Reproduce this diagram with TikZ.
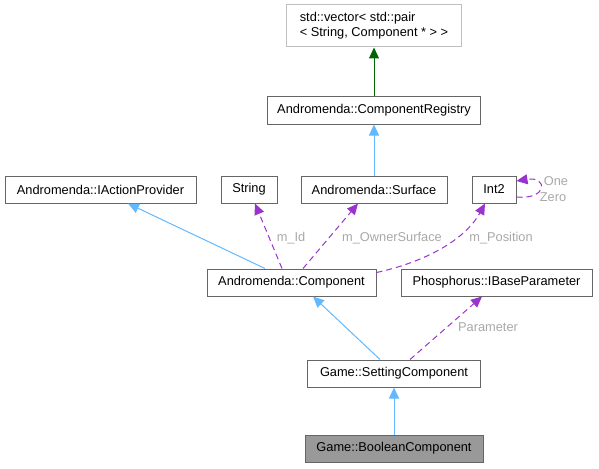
\documentclass[tikz,border=0pt]{standalone}
\usepackage{fontspec}
\setmainfont{Liberation Sans}
\usetikzlibrary{arrows.meta,calc}
\definecolor{boxline}{HTML}{666666}
\definecolor{lightline}{HTML}{BFBFBF}
\definecolor{inhblue}{HTML}{63B8FF}
\definecolor{usepurple}{HTML}{9A32CD}
\definecolor{tmplgreen}{HTML}{006400}
\definecolor{lblgray}{HTML}{A8A8A8}
\definecolor{curfill}{HTML}{999999}
\tikzset{
  cls/.style={draw=boxline, line width=1pt, fill=white, minimum height=27pt, inner sep=0pt,
    font=\fontsize{12.8}{15}\selectfont, text=black},
  inh/.style={draw=inhblue, line width=1pt, -{Triangle[length=11pt,width=10pt]}},
  usage/.style={draw=usepurple, line width=1pt, dash pattern=on 6pt off 4pt, -{Triangle[length=11pt,width=10pt]}},
  tmpl/.style={draw=tmplgreen, line width=1pt, -{Triangle[length=11pt,width=10pt]}},
  lbl/.style={font=\fontsize{12.8}{15}\selectfont, text=lblgray, inner sep=0pt}
}
\begin{document}
\begin{tikzpicture}[x=1pt,y=-1pt]
\useasboundingbox (0,0) rectangle (599,468);
\node[cls, draw=lightline, minimum width=175pt, minimum height=42pt, align=left] (vec) at (374,26)
  {std::vector< std::pair\\< String, Component * > >};
\node[cls, minimum width=213pt] (reg) at (374,110.5) {Andromenda::ComponentRegistry};
\node[cls, minimum width=191pt] (iap) at (100.5,189.5) {Andromenda::IActionProvider};
\node[cls, minimum width=56pt] (str) at (249,189.5) {String};
\node[cls, minimum width=146pt] (surf) at (374,189.5) {Andromenda::Surface};
\node[cls, minimum width=44pt] (int) at (494,189.5) {Int2};
\node[cls, minimum width=169pt] (comp) at (291.5,282.5) {Andromenda::Component};
\node[cls, minimum width=191pt] (ibp) at (496.5,282.5) {Phosphorus::IBaseParameter};
\node[cls, minimum width=173pt] (set) at (394,373.5) {Game::SettingComponent};
\node[cls, minimum width=178pt, fill=curfill] (bool) at (394,448.5) {Game::BooleanComponent};

\draw[tmpl] (reg.north) -- (vec.south);
\draw[inh] (surf.north) -- (reg.south);
\draw[inh] ([xshift=-26.5pt]comp.north) -- ([xshift=27.5pt]iap.south);
\draw[usage] ([xshift=-9.5pt]comp.north) -- ([xshift=6pt]str.south);
\draw[usage] ([xshift=11.5pt]comp.north) -- ([xshift=-16pt]surf.south);
\draw[usage] ([yshift=10pt]comp.east) .. controls (425,262) and (465,240) .. ([xshift=-9pt]int.south);
\draw[usage] ([yshift=-7.5pt]int.east) .. controls (548,200) and (548,176) .. ([yshift=8.5pt]int.east);
\draw[inh] ([xshift=-14pt]set.north) -- ([xshift=21.5pt]comp.south);
\draw[usage] ([xshift=16pt]set.north) -- ([xshift=-14.5pt]ibp.south);
\draw[inh] (bool.north) -- (set.south);

\node[lbl] (lid) at (291,238) {m\_Id};
\node[lbl] (lown) at (392,238) {m\_OwnerSurface};
\node[lbl] (lpos) at (501,238) {m\_Position};
\node[lbl] (lone) at (556,181) {One};
\node[lbl] (lzero) at (553,197) {Zero};
\node[lbl] (lpar) at (488,327) {Parameter};
\end{tikzpicture}
\end{document}
